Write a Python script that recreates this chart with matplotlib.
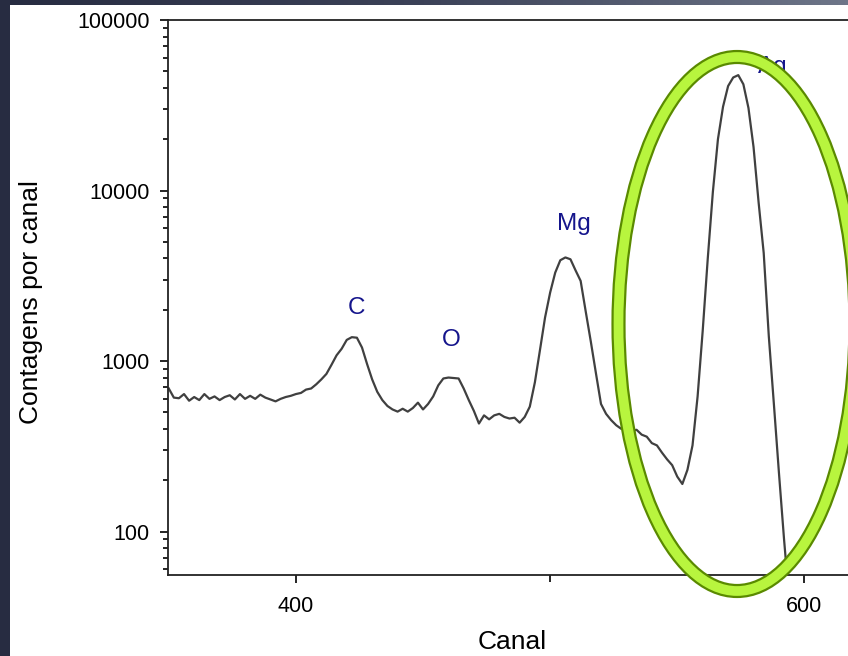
import numpy as np
import matplotlib
matplotlib.use("Agg")
import matplotlib.pyplot as plt
from matplotlib.patches import Ellipse, Rectangle
from matplotlib.ticker import FixedLocator, LogLocator, NullFormatter, FuncFormatter
from matplotlib.colors import LinearSegmentedColormap

plt.rcParams['font.family'] = ['Liberation Sans', 'DejaVu Sans']

# spectrum: channel vs counts per channel
channel = np.arange(350, 596, 2)
counts = [
    690, 610, 605, 640, 585, 615, 590, 640, 600, 620,
    590, 615, 630, 595, 640, 600, 625, 600, 635, 610,
    595, 580, 600, 615, 625, 640, 650, 680, 690, 730,
    780, 840, 950, 1080, 1180, 1330, 1380, 1370, 1200, 960,
    780, 660, 590, 545, 520, 505, 525, 505, 530, 570,
    520, 560, 620, 720, 790, 800, 795, 790, 690, 590,
    510, 430, 480, 455, 480, 490, 470, 460, 465, 435,
    470, 540, 750, 1160, 1800, 2520, 3300, 3900, 4050, 3950,
    3400, 2950, 1950, 1300, 850, 560, 490, 450, 420, 400,
    410, 390, 395, 370, 360, 330, 320, 290, 265, 245,
    210, 190, 230, 320, 620, 1500, 4000, 9800, 20000, 31000,
    41000, 46000, 47500, 42000, 30500, 18000, 8500, 4300, 1400, 560,
    220, 90, 40,
]

# peak labels
peak_names = ['C', 'O', 'Mg', 'Ag']
peak_x = [424, 461, 509.5, 587.5]
peak_y = [2050, 1330, 6400, 53000]

fig = plt.figure(figsize=(8.48, 6.56), dpi=100)
fig.patch.set_facecolor('white')

# slide frame: dark strip on the left, gradient strip on top
fig.add_artist(Rectangle((0, 0), 10 / 848, 1, transform=fig.transFigure,
                         facecolor='#272c41', edgecolor='none', zorder=-1))
top = fig.add_axes([0, 651 / 656, 1, 5 / 656])
top.axis('off')
cmap = LinearSegmentedColormap.from_list('frame', ['#272c41', '#3c4258', '#6e7689'])
top.imshow(np.linspace(0, 1, 256)[None, :], aspect='auto', cmap=cmap,
           extent=[0, 1, 0, 1])

ax = fig.add_axes([168 / 848, 81 / 656, 688 / 848, 555 / 656])
ax.plot(channel, counts, color='#404040', lw=1.6)

ax.set_yscale('log')
ax.set_xlim(349.7, 620.3)
ax.set_ylim(55.6, 100000)

ax.xaxis.set_major_locator(FixedLocator([400, 600]))
ax.xaxis.set_minor_locator(FixedLocator([500]))
ax.yaxis.set_major_locator(LogLocator(base=10))
ax.yaxis.set_minor_locator(LogLocator(base=10, subs=np.arange(2, 10)))
ax.yaxis.set_minor_formatter(NullFormatter())
ax.yaxis.set_major_formatter(FuncFormatter(lambda v, p: f'{v:.0f}'))

ax.tick_params(which='major', direction='out', length=6, width=1.2,
               labelsize=15.5, colors='black')
ax.tick_params(axis='y', which='major', pad=7)
ax.tick_params(axis='x', which='major', pad=9)
ax.tick_params(which='minor', direction='out', length=3.5, width=1.2)
ax.tick_params(axis='x', which='minor', length=5)
ax.tick_params(top=False, right=False)
for s in ['left', 'bottom', 'top', 'right']:
    ax.spines[s].set_linewidth(1.3)
    ax.spines[s].set_color('#222222')

ax.set_xlabel('Canal', fontsize=19)
ax.xaxis.set_label_coords(0.5, (575 - 630) / 555)
ax.set_ylabel('Contagens por canal', fontsize=19)
ax.yaxis.set_label_coords((31 - 168) / 688, (575 - 302) / 555)
ax.yaxis.label.set_va('center')

for name, x, y in zip(peak_names, peak_x, peak_y):
    ax.text(x, y, name, fontsize=17.5, color='#15158c', ha='center', va='center')

# highlight ring around the Ag peak
ring_kw = dict(xy=(737 / 848, 1 - 324 / 656), width=237 / 848, height=534 / 656,
               transform=fig.transFigure, facecolor='none', zorder=5)
fig.add_artist(Ellipse(edgecolor='#5a8a00', lw=10.2, **ring_kw))
fig.add_artist(Ellipse(edgecolor='#b8f53e', lw=7.0, **ring_kw))

fig.savefig('out.png', dpi=100)
